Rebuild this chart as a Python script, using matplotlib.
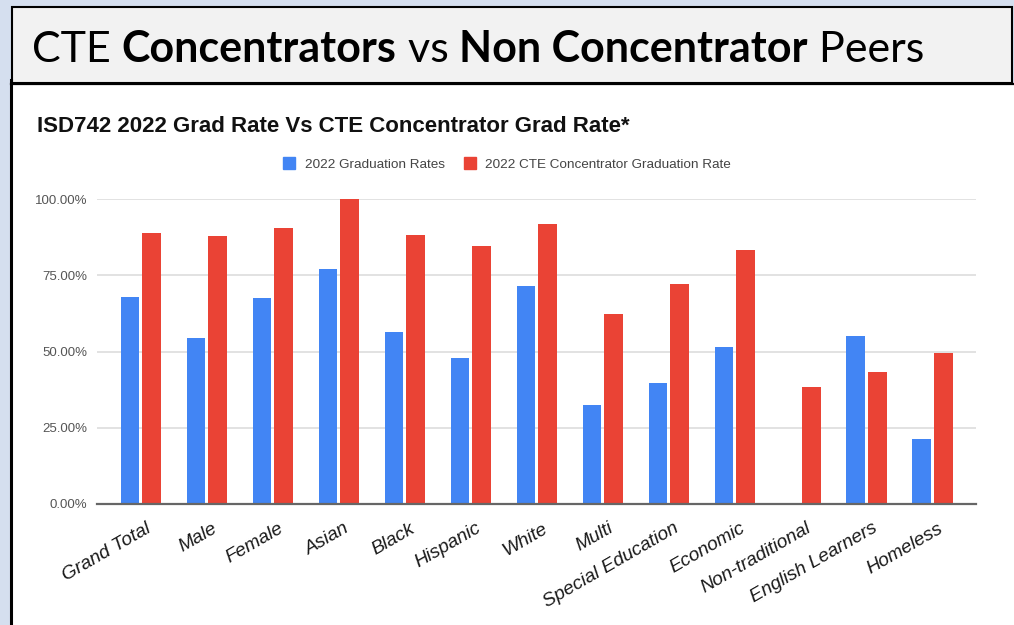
import numpy as np
import matplotlib
matplotlib.use("Agg")
import matplotlib.pyplot as plt
from matplotlib.patches import Rectangle, Patch
from matplotlib.transforms import ScaledTranslation

# ---------- data ----------
categories = ["Grand Total", "Male", "Female", "Asian", "Black", "Hispanic", "White",
              "Multi", "Special Education", "Economic", "Non-traditional",
              "English Learners", "Homeless"]
grad_rate = [67.8, 54.4, 67.4, 77.2, 56.3, 47.8, 71.5, 32.5, 39.6, 51.6, 0.0, 55.2, 21.4]
cte_rate = [89.0, 87.9, 90.4, 100.0, 88.3, 84.5, 91.7, 62.3, 72.2, 83.4, 38.5, 43.3, 49.6]
yticks = [0, 25, 50, 75, 100]
series_names = ["2022 Graduation Rates", "2022 CTE Concentrator Graduation Rate"]
header_parts = [("CTE ", "normal"), ("Concentrators", "bold"), (" vs ", "normal"),
                ("Non Concentrator", "bold"), (" Peers", "normal")]
chart_title = "ISD742 2022 Grad Rate Vs CTE Concentrator Grad Rate*"

BLUE = "#4285F4"
RED = "#EA4335"
W, H = 1014, 625

fig = plt.figure(figsize=(W / 100, H / 100), dpi=100)
fig.patch.set_facecolor("#D5DFEF")

# background layer in pixel coords (slide frame)
bg = fig.add_axes([0, 0, 1, 1], zorder=0)
bg.set_xlim(0, W)
bg.set_ylim(H, 0)
bg.axis("off")
bg.add_patch(Rectangle((11, 84), W, H, facecolor="white", edgecolor="none"))
bg.plot([11, 11], [80, H], color="black", lw=2.2)
bg.plot([11, W], [84, 84], color="black", lw=1.6)
bg.add_patch(Rectangle((12, 7), 1000, 76, facecolor="#F2F2F2", edgecolor="black", lw=1.5))

renderer = fig.canvas.get_renderer()
x = 32
for txt, wt in header_parts:
    t = bg.text(x, 62, txt, fontsize=31, fontweight=wt, family="Lato", va="baseline", color="black")
    x += t.get_window_extent(renderer).width

bg.text(37, 132, chart_title, fontsize=16, fontweight="bold", family="Liberation Sans",
        va="baseline", color="#111111")

# ---------- chart ----------
ax = fig.add_axes([97 / W, 1 - 504 / H, 879 / W, 305 / H], zorder=1)
ax.patch.set_alpha(0)
xs = np.arange(len(categories))
bw = 0.28
off = 0.165
ax.bar(xs - off, grad_rate, width=bw, color=BLUE, zorder=3)
ax.bar(xs + off, cte_rate, width=bw, color=RED, zorder=3)

ax.set_xlim(-0.664, 12.658)
ax.set_ylim(0, 100)
ax.set_yticks(yticks)
ax.set_yticklabels([f"{v:.2f}%" for v in yticks], fontsize=9.5, color="#555555",
                   family="Liberation Sans")
ax.tick_params(axis="both", length=0)
ax.tick_params(axis="y", pad=7)
ax.yaxis.grid(True, color="#DDDDDD", lw=1.2, zorder=0)
ax.set_axisbelow(True)
for s in ["top", "right", "left"]:
    ax.spines[s].set_visible(False)
ax.spines["bottom"].set_color("#666666")
ax.spines["bottom"].set_linewidth(1.6)
ax.spines["bottom"].set_zorder(4)

ax.set_xticks(xs)
ax.set_xticklabels(categories, rotation=30, ha="right", va="top", rotation_mode="anchor",
                   fontsize=13.8, style="italic", color="#1a1a1a", family="Liberation Sans")
shift = ScaledTranslation(5 / 100, -11 / 100, fig.dpi_scale_trans)
for lab in ax.get_xticklabels():
    lab.set_transform(lab.get_transform() + shift)

handles = [Patch(color=BLUE), Patch(color=RED)]
ax.legend(handles, series_names, loc="center", bbox_to_anchor=(507 / W, 1 - 164 / H),
          bbox_transform=fig.transFigure, ncol=2, frameon=False,
          handlelength=0.9, handleheight=0.9, handletextpad=0.7, columnspacing=1.4,
          labelcolor="#444444", prop={"family": "Liberation Sans", "size": 9.7})

fig.savefig("out.png", dpi=100, facecolor=fig.get_facecolor())
